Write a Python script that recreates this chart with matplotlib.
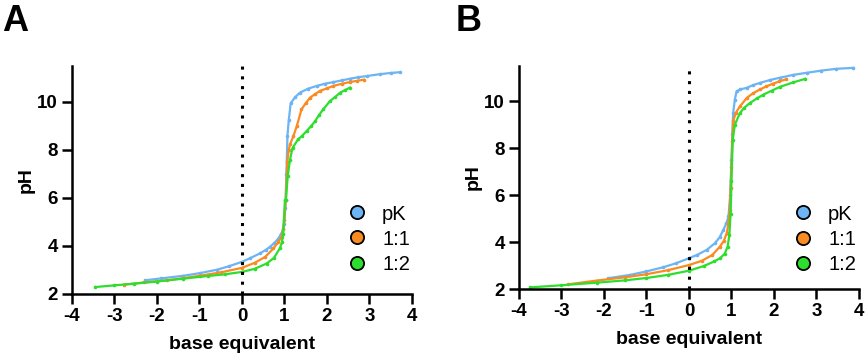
import matplotlib
matplotlib.use("Agg")
import matplotlib.pyplot as plt
from matplotlib.lines import Line2D

plt.rcParams['font.family'] = ['Liberation Sans', 'DejaVu Sans']

# Panel A data
a_pk_x = [-2.28, -1.9, -1.38, -0.99, -0.59, -0.3, 0.0, 0.2, 0.42, 0.57, 0.66, 0.76, 0.85, 0.92, 0.97, 0.99, 1.02, 1.045, 1.07, 1.10, 1.146, 1.25, 1.365, 1.55, 1.757, 1.95, 2.15, 2.35, 2.54, 2.73, 2.93, 3.25, 3.5, 3.71]
a_pk_y = [2.57, 2.65, 2.76, 2.87, 3.01, 3.16, 3.34, 3.5, 3.69, 3.85, 3.97, 4.12, 4.3, 4.5, 4.7, 4.9, 5.6, 7.0, 8.6, 9.23, 9.95, 10.2, 10.39, 10.55, 10.67, 10.76, 10.83, 10.9, 10.97, 11.03, 11.08, 11.16, 11.21, 11.24]

a_11_x = [-2.77, -2.3, -1.77, -1.38, -0.99, -0.5, 0.0, 0.3, 0.55, 0.74, 0.85, 0.93, 0.97, 0.994, 1.03, 1.065, 1.10, 1.13, 1.21, 1.29, 1.40, 1.5, 1.6, 1.72, 1.835, 2.0, 2.15, 2.35, 2.54, 2.7, 2.87]
a_11_y = [2.39, 2.48, 2.57, 2.66, 2.76, 2.9, 3.09, 3.3, 3.55, 3.9, 4.15, 4.38, 4.7, 5.08, 5.92, 7.49, 8.0, 8.23, 8.58, 9.0, 9.69, 9.95, 10.18, 10.33, 10.46, 10.57, 10.67, 10.76, 10.83, 10.88, 10.93]

a_12_x = [-3.45, -3.0, -2.55, -2.0, -1.38, -0.8, -0.4, 0.0, 0.3, 0.58, 0.75, 0.89, 0.94, 0.97, 1.01, 1.035, 1.075, 1.13, 1.19, 1.32, 1.42, 1.52, 1.62, 1.72, 1.81, 1.91, 2.07, 2.2, 2.31, 2.43, 2.54]
a_12_y = [2.29, 2.36, 2.43, 2.52, 2.64, 2.75, 2.82, 2.92, 3.05, 3.27, 3.5, 3.9, 4.15, 4.52, 5.9, 5.93, 6.9, 7.6, 8.09, 8.44, 8.6, 8.79, 8.98, 9.2, 9.45, 9.69, 10.04, 10.22, 10.39, 10.5, 10.6]

# Panel B data
b_pk_x = [-1.9, -1.39, -1.0, -0.6, -0.3, 0.0, 0.2, 0.42, 0.61, 0.72, 0.81, 0.88, 0.93, 0.97, 1.0, 1.02, 1.04, 1.08, 1.12, 1.2, 1.36, 1.5, 1.67, 1.9, 2.14, 2.45, 2.77, 3.1, 3.47, 3.87]
b_pk_y = [2.46, 2.6, 2.75, 2.93, 3.1, 3.31, 3.46, 3.67, 3.95, 4.2, 4.52, 4.8, 5.09, 6.0, 7.5, 8.6, 9.5, 10.07, 10.42, 10.5, 10.57, 10.68, 10.78, 10.9, 11.0, 11.12, 11.21, 11.3, 11.38, 11.42]

b_11_x = [-2.84, -2.17, -1.5, -1.0, -0.5, 0.0, 0.3, 0.55, 0.73, 0.82, 0.89, 0.93, 0.96, 0.98, 1.0, 1.02, 1.04, 1.1, 1.2, 1.36, 1.5, 1.67, 1.82, 1.98, 2.12, 2.28]
b_11_y = [2.2, 2.36, 2.5, 2.63, 2.8, 3.02, 3.2, 3.45, 3.81, 4.05, 4.38, 4.8, 5.37, 6.3, 7.2, 8.3, 9.14, 9.5, 9.78, 10.14, 10.33, 10.5, 10.63, 10.75, 10.84, 10.93]

b_12_x = [-3.73, -3.0, -2.17, -1.5, -1.0, -0.5, 0.0, 0.35, 0.6, 0.73, 0.84, 0.91, 0.95, 0.98, 1.0, 1.03, 1.08, 1.2, 1.3, 1.44, 1.6, 1.75, 1.95, 2.14, 2.45, 2.73]
b_12_y = [2.07, 2.16, 2.27, 2.37, 2.47, 2.6, 2.78, 2.98, 3.18, 3.31, 3.5, 3.81, 4.3, 5.2, 6.6, 8.36, 9.0, 9.5, 9.72, 9.93, 10.12, 10.28, 10.45, 10.61, 10.8, 10.95]

labels = ["pK", "1:1", "1:2"]
colors = ["#6cb4f3", "#f98b22", "#2ede2e"]
xticks = [-4, -3, -2, -1, 0, 1, 2, 3, 4]
yticks = [2, 4, 6, 8, 10]

fig = plt.figure(figsize=(8.65, 3.61), dpi=100)
axA = fig.add_axes([0.0832, 0.1856, 0.3931, 0.6316])
axB = fig.add_axes([0.6000, 0.1994, 0.3930, 0.6178])

panels = [
    (axA, (0.755, 0.241), [(a_pk_x, a_pk_y), (a_11_x, a_11_y), (a_12_x, a_12_y)]),
    (axB, (0.752, 0.224), [(b_pk_x, b_pk_y), (b_11_x, b_11_y), (b_12_x, b_12_y)]),
]

for ax, anchor, series in panels:
    for (xs, ys), c in zip(series, colors):
        ax.plot(xs, ys, color=c, lw=1.6, marker='o', ms=1.6, mec=c, mfc=c)
    ax.axvline(0, color='black', lw=2.2, linestyle=(0, (1, 2.2)))
    ax.set_xlim(-4, 4)
    ax.set_ylim(2, 11.5)
    ax.set_xticks(xticks)
    ax.set_xticklabels([str(t) for t in xticks])
    ax.set_yticks(yticks)
    for s in ['top', 'right']:
        ax.spines[s].set_visible(False)
    for s in ['left', 'bottom']:
        ax.spines[s].set_linewidth(1.8)
    ax.tick_params(width=1.8, length=7, labelsize=13.5, pad=3)
    for t in ax.get_xticklabels() + ax.get_yticklabels():
        t.set_fontweight('bold')
    ax.set_xlabel("base equivalent", fontsize=14, fontweight='bold', labelpad=8)
    ax.set_ylabel("pH", fontsize=14, fontweight='bold', labelpad=2)
    handles = [Line2D([], [], ls='none', marker='o', ms=9.5, mfc=c, mec='black', mew=1.3) for c in colors]
    ax.legend(handles, labels, loc='center left', bbox_to_anchor=anchor, frameon=False,
              fontsize=14.5, handletextpad=0.75, labelspacing=0.3, handlelength=1.0)

fig.text(0.002, 0.99, "A", fontsize=26, fontweight='bold', va='top', ha='left')
fig.text(0.527, 0.99, "B", fontsize=26, fontweight='bold', va='top', ha='left')

fig.savefig("out.png", dpi=100)
